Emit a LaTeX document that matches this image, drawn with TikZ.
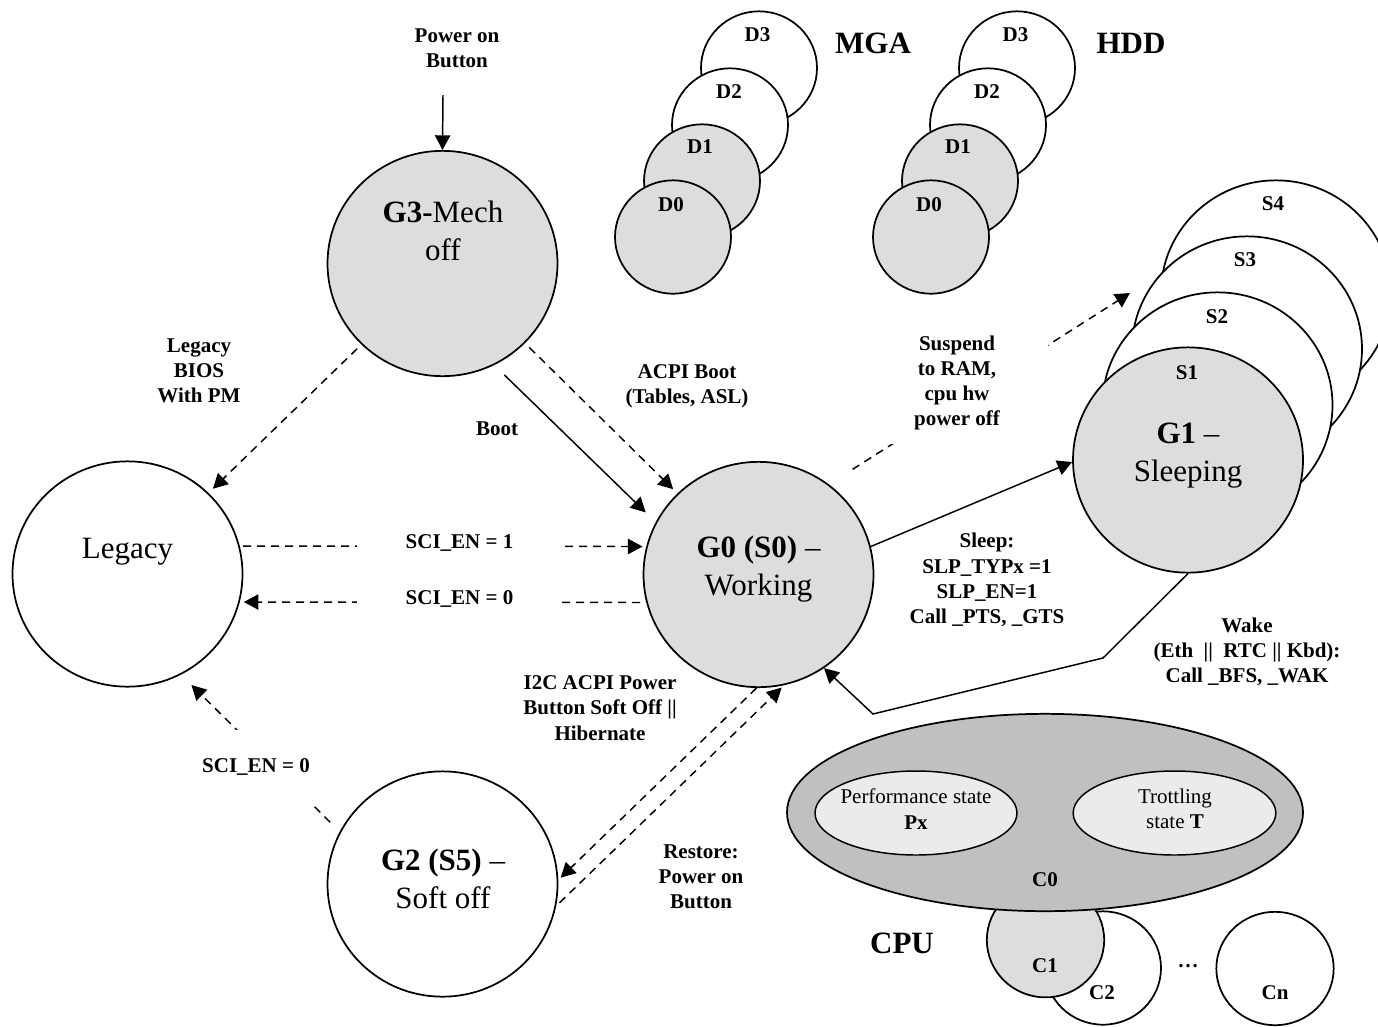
\documentclass[tikz,border=0pt]{standalone}
\usepackage{fontspec}
\setmainfont{Liberation Serif}
\usetikzlibrary{arrows.meta,shapes.geometric}
\definecolor{stategray}{HTML}{DDDDDD}
\definecolor{cpugray}{HTML}{C0C0C0}
\definecolor{innergray}{HTML}{EBEBEB}
\begin{document}
\begin{tikzpicture}[x=0.75pt,y=-0.75pt,
  state/.style={ellipse,draw,line width=1.3pt,inner sep=0pt},
  bigstate/.style={state,minimum width=172.5pt,minimum height=169pt},
  substate/.style={state,minimum width=87pt,minimum height=85pt},
  on/.style={fill=stategray},
  off/.style={fill=white},
  lbl/.style={font=\fontsize{15.75pt}{18.9pt}\selectfont\bfseries,align=center,inner sep=1pt},
  plain/.style={font=\fontsize{15.75pt}{18.9pt}\selectfont,align=center,inner sep=1pt},
  title/.style={font=\fontsize{23.25pt}{28.5pt}\selectfont\bfseries,inner sep=0pt},
  bigtxt/.style={font=\fontsize{23.25pt}{28.5pt}\selectfont,align=center,inner sep=0pt},
  mask/.style={fill=white},
  arr/.style={line width=1.1pt,-{Triangle[length=11pt,width=11.5pt]}},
  darr/.style={arr,dash pattern=on 6pt off 4.5pt},
]
\useasboundingbox (0,0) rectangle (1378,1026);

% sleeping states stack
\node[bigstate,off] (S4) at (1276,293) {};
\node[bigstate,off] (S3) at (1247,349) {};
\node[bigstate,off] (S2) at (1217.5,405) {};
\node[bigstate,on]  (G1) at (1188,460) {};

% device states: MGA
\node[substate,off] (mD3) at (759,68) {};
\node[substate,off] (mD2) at (730,125) {};
\node[substate,on]  (mD1) at (702,181) {};
\node[substate,on]  (mD0) at (673,237) {};
% device states: HDD
\node[substate,off] (hD3) at (1017,68) {};
\node[substate,off] (hD2) at (988,125) {};
\node[substate,on]  (hD1) at (960,181) {};
\node[substate,on]  (hD0) at (931,237) {};

% processor states
\node[substate,off,minimum width=87pt] (C2) at (1103,968) {};
\node[substate,on,minimum width=88pt,minimum height=86pt] (C1) at (1045.5,940) {};
\node[state,fill=cpugray,minimum width=387pt,minimum height=148pt] (C0) at (1045,812.5) {};
\node[state,fill=innergray,line width=1.1pt,minimum width=151.5pt,minimum height=63pt] (Px) at (916,813) {};
\node[state,fill=innergray,line width=1.1pt,minimum width=152pt,minimum height=63pt] (Tx) at (1174.5,813) {};
\node[substate,off,minimum width=88pt] (Cn) at (1275,968.5) {};

% global states
\node[bigstate,on]  (G3)  at (442.5,263.5) {};
\node[bigstate,off] (Leg) at (127.5,574) {};
\node[bigstate,on]  (G0)  at (758.5,574.5) {};
\node[bigstate,off] (G2)  at (442.5,884) {};

% free ends of connectors
\coordinate (pwrtop) at (443,95);
\coordinate (susptip) at (1130,293);
\coordinate (wk1) at (1103,658);
\coordinate (wk2) at (873,714);

% transitions
\draw[arr] (pwrtop) -- (G3.north);
\draw[darr,shorten <=4.5pt,shorten >=4.5pt] (G3.225) -- (Leg.45);
\draw[darr,shorten <=4.5pt,shorten >=4.5pt] (G3.-44) -- (G0.135);
\draw[arr,shorten <=10.5pt,shorten >=10.5pt] (G3.-63) -- (G0.153.5);
\draw[darr,shorten <=2.5pt,shorten >=2.7pt] (Leg.14) -- (G0.166);
\draw[darr,shorten <=4.5pt,shorten >=3pt] (G0.194) -- (Leg.-14);
\draw[arr] (G0.14) -- (G1.181.5);
\draw[arr] (G1.south) -- (wk1) -- (wk2) -- (G0.-55.6);
\draw[darr,shorten >=2.5pt] (G0.-91) -- (G2.2);
\draw[darr,shorten <=3.5pt,shorten >=2.5pt] (G2.-11) -- (G0.-77);
\draw[darr,shorten <=10pt,shorten >=11pt] (G2.153.3) -- (Leg.-62.4);
\draw[darr,shorten <=21pt] (G0.52.5) -- (susptip);

% transition labels
\node[lbl] (tpwr) at (457,48) {Power on\\Button};
\node[lbl] (tbios) at (199,371) {Legacy\\BIOS\\With PM};
\node[lbl] (tboot) at (497,429) {Boot};
\node[lbl] (tacpi) at (687,386) {ACPI Boot\\(Tables, ASL)};
\node[lbl,mask,minimum width=136.5pt,minimum height=91.5pt] (tsusp) at (957,383) {Suspend\\to RAM,\\cpu hw\\power off};
\node[lbl,mask,minimum width=153.75pt,inner ysep=3pt] (tsci1) at (459.5,543) {SCI\_EN = 1};
\node[lbl,mask,minimum width=153.75pt,inner ysep=3pt] (tsci0) at (459.5,599) {SCI\_EN = 0};
\node[lbl,mask,minimum width=82.5pt,minimum height=55.5pt] (tsci0b) at (256,767) {SCI\_EN = 0};
\node[lbl] (tsleep) at (987,580) {Sleep:\\SLP\_TYPx =1\\SLP\_EN=1\\Call \_PTS, \_GTS};
\node[lbl] (twake) at (1247,652) {Wake\\(Eth \ || \ RTC || Kbd):\\Call \_BFS, \_WAK};
\node[lbl] (ti2c) at (600,708) {I2C ACPI Power\\Button Soft Off ||\\Hibernate};
\node[lbl] (trest) at (701,877) {Restore:\\Power on\\Button};

% state names
\node[bigtxt] (nG3) at (443,231) {\textbf{G3-}Mech\\off};
\node[bigtxt] (nLeg) at (127.5,552) {Legacy};
\node[bigtxt] (nG0) at (758.5,569) {\textbf{G0 (S0)} –\\Working};
\node[bigtxt] (nG1) at (1188,456) {\textbf{G1} –\\Sleeping};
\node[bigtxt] (nG2) at (443,879) {\textbf{G2 (S5)} –\\Soft off};

\node[lbl] (nS1) at (1187,373) {S1};
\node[lbl] (nS2) at (1217,317) {S2};
\node[lbl] (nS3) at (1245,260) {S3};
\node[lbl] (nS4) at (1273,204) {S4};

\node[lbl] (nmD0) at (671,205) {D0};
\node[lbl] (nmD1) at (700,147) {D1};
\node[lbl] (nmD2) at (729,92) {D2};
\node[lbl] (nmD3) at (757.5,35) {D3};
\node[lbl] (nhD0) at (929,205) {D0};
\node[lbl] (nhD1) at (958,147) {D1};
\node[lbl] (nhD2) at (987,92) {D2};
\node[lbl] (nhD3) at (1015.5,35) {D3};

\node[title] (tMGA) at (873,43) {MGA};
\node[title] (tHDD) at (1131,43) {HDD};
\node[title] (tCPU) at (902,943) {CPU};

\node[plain] (nPx) at (916,809) {Performance state\\\textbf{Px}};
\node[plain] (nTx) at (1175,809) {Trottling\\state \textbf{T}};
\node[lbl] (nC0) at (1045,880) {C0};
\node[lbl] (nC1) at (1045,966) {C1};
\node[lbl] (nC2) at (1102,993) {C2};
\node[lbl] (nCn) at (1275,993) {Cn};
\node[lbl] (ndots) at (1188,966) {…};
\end{tikzpicture}
\end{document}
